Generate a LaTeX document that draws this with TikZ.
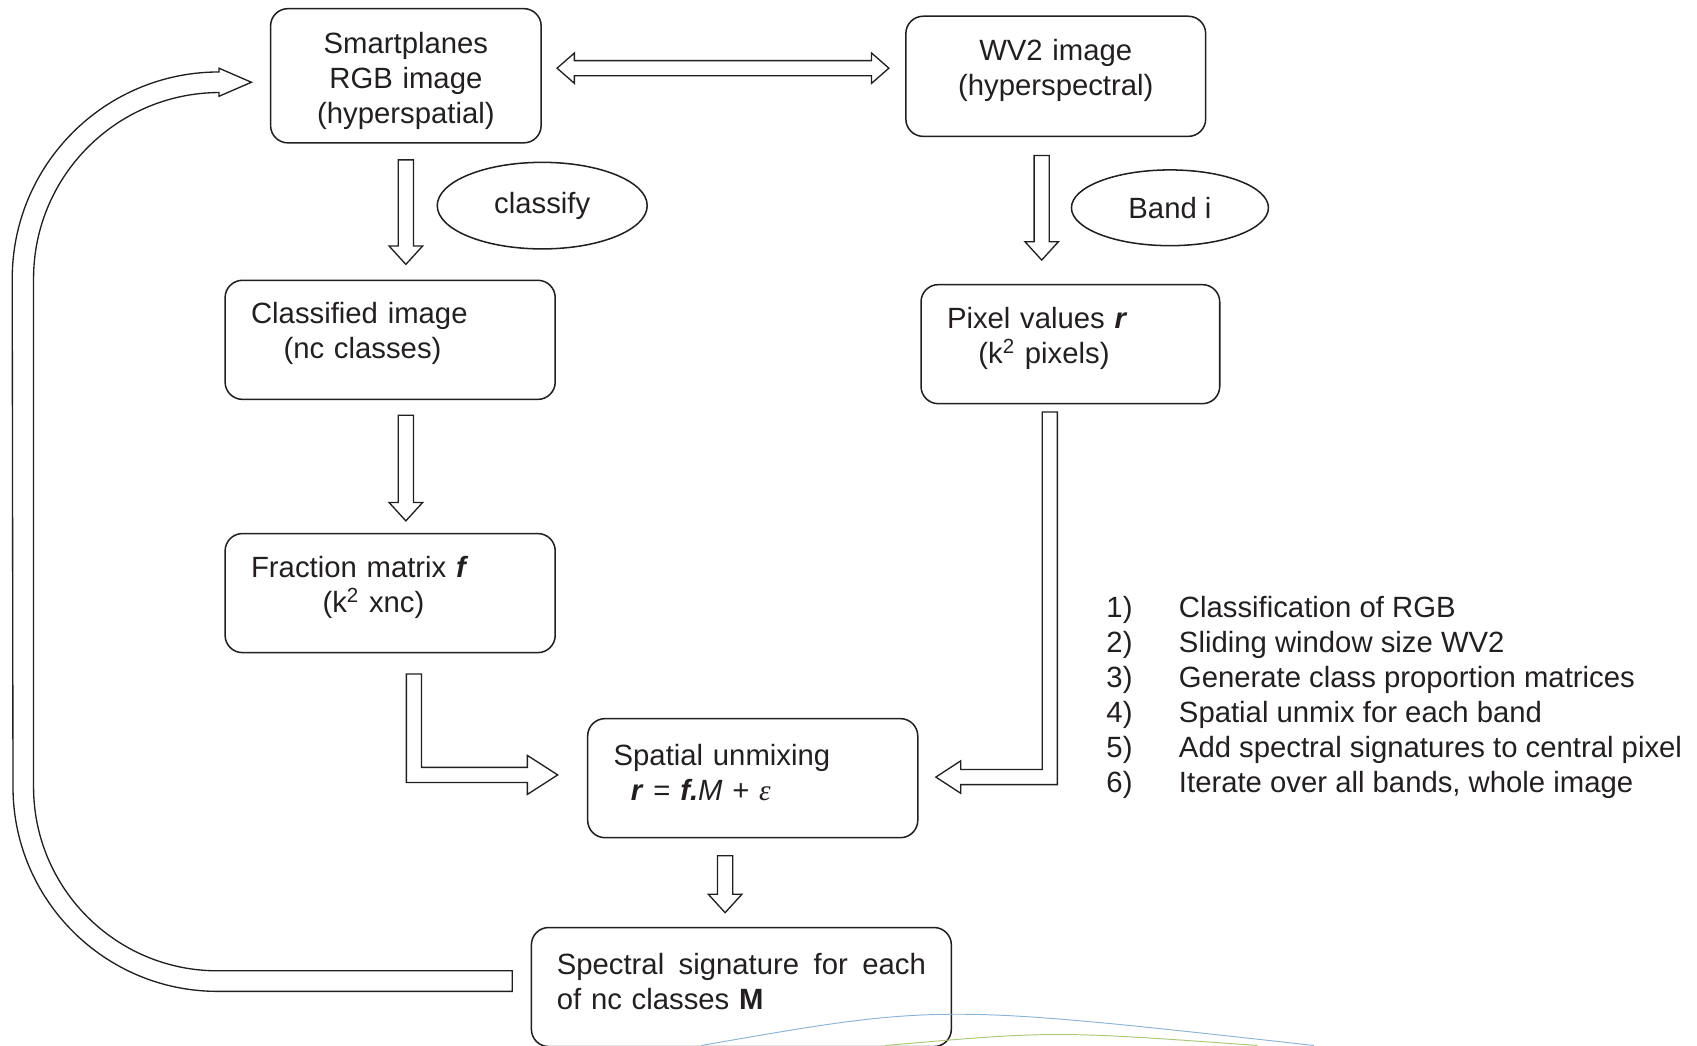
\documentclass[tikz,border=0pt]{standalone}
\usepackage{fontspec}
\setmainfont{Liberation Sans}
\newfontfamily\greekserif{Liberation Serif}
\usetikzlibrary{calc,shapes.geometric}
\definecolor{Ink}{RGB}{35,31,32}
\definecolor{ArcBlue}{RGB}{140,180,215}
\definecolor{ArcGreen}{RGB}{170,200,120}
\newcommand{\diafont}{\fontsize{15.4}{18.4}\selectfont}
\newcommand{\shafthw}{0.14}
\newcommand{\headhw}{0.31}
\newcommand{\headlen}{0.34}
% hollow block arrow pointing down: shaft top, tip
\newcommand{\fatdown}[2]{%
  \draw[fat] ($(#1)+(-\shafthw,0)$) -- ($(#2)+(-\shafthw,\headlen)$) -- ($(#2)+(-\headhw,\headlen)$)
    -- (#2) -- ($(#2)+(\headhw,\headlen)$) -- ($(#2)+(\shafthw,\headlen)$) -- ($(#1)+(\shafthw,0)$) -- cycle;}
\tikzset{
  box/.style={draw=Ink, line width=0.8pt, rounded corners=0.32cm, inner xsep=0.48cm, inner ysep=0pt,
    align=left, minimum height=2.2cm, text=Ink, font=\diafont},
  lift/.style={execute at end node={\par\vspace*{#1}}},
  lift/.default=2.2mm,
  tag/.style={draw=Ink, line width=0.8pt, ellipse, inner sep=0pt, text=Ink, font=\diafont},
  fat/.style={draw=Ink, line width=0.7pt},
}
\begin{document}
\begin{tikzpicture}
    \useasboundingbox (0,0) rectangle (31.36,-19.32);

    % Image boxes
    \node[box, lift=-2mm, text width=4.04cm, align=center, minimum height=2.48cm] (smart) at (7.50,-1.40) {Smartplanes\\RGB image\\(hyperspatial)};
    \node[box, lift, text width=4.58cm, align=center, minimum height=2.22cm] (wv2) at (19.51,-1.41) {WV2 image\\(hyperspectral)};

    % Steps
    \node[box, lift, text width=5.14cm] (clas) at (7.21,-6.28) {Classified image\\\hspace*{0.60cm}(nc classes)};
    \node[box, lift, text width=4.56cm] (pix) at (19.78,-6.36) {Pixel values \textbf{\textit{r}}\\\hspace*{0.58cm}(k\textsuperscript{2} pixels)};
    \node[box, lift, text width=5.14cm] (frac) at (7.21,-10.96) {Fraction matrix \textbf{\textit{f}}\\\hspace*{1.32cm}(k\textsuperscript{2} xnc)};
    \node[box, lift, text width=5.14cm] (spat) at (13.91,-14.38) {Spatial unmixing\\\hspace*{0.32cm}\textbf{\textit{r}} = \textbf{\textit{f.}}\textit{M} + {\greekserif\itshape ε}};
    \node[box, lift, text width=6.82cm, inner xsep=0.47cm] (spec) at (13.70,-18.24) {\hbox to 6.82cm{Spectral\hfill signature\hfill for\hfill each}\\of nc classes \textbf{M}};

    % Operations
    \node[tag, minimum width=3.88cm, minimum height=1.60cm] (classify) at (10.02,-3.80) {classify};
    \node[tag, minimum width=3.64cm, minimum height=1.40cm] (band) at (21.62,-3.84) {Band i};

    % Straight arrows
    \coordinate (d1s) at ($(smart.south)+(0,-0.30)$);
    \coordinate (d1t) at ($(d1s |- clas.north)+(0,0.28)$);
    \fatdown{d1s}{d1t}
    \coordinate (d2s) at ($(d1s |- clas.south)+(0,-0.28)$);
    \coordinate (d2t) at ($(d2s |- frac.north)+(0,0.22)$);
    \fatdown{d2s}{d2t}
    \coordinate (d3s) at ($(wv2.south)+(-0.26,-0.34)$);
    \coordinate (d3t) at ($(d3s |- pix.north)+(0,0.44)$);
    \fatdown{d3s}{d3t}
    \coordinate (d4s) at ($(spat.south)+(-0.51,-0.32)$);
    \coordinate (d4t) at ($(d4s |- spec.north)+(0,0.26)$);
    \fatdown{d4s}{d4t}

    % Double arrow between the two images
    \coordinate (dal) at ($(smart.east)+(0.28,0.14)$);
    \coordinate (dar) at ($(wv2.west |- dal)+(-0.30,0)$);
    \draw[fat] (dal) -- ($(dal)+(0.32,0.28)$) -- ($(dal)+(0.32,0.14)$) -- ($(dar)+(-0.32,0.14)$) -- ($(dar)+(-0.32,0.28)$)
        -- (dar) -- ($(dar)+(-0.32,-0.28)$) -- ($(dar)+(-0.32,-0.14)$) -- ($(dal)+(0.32,-0.14)$) -- ($(dal)+(0.32,-0.28)$) -- cycle;

    % Elbow arrows into the unmixing
    \coordinate (els) at ($(frac.south)+(0.44,-0.38)$);
    \coordinate (elt) at ($(spat.west)+(-0.54,0.06)$);
    \draw[fat] ($(els)+(-0.14,0)$) -- ($(els |- elt)+(-0.14,-0.14)$) -- ($(elt)+(-0.56,-0.14)$) -- ($(elt)+(-0.56,-0.36)$)
        -- (elt) -- ($(elt)+(-0.56,0.36)$) -- ($(elt)+(-0.56,0.14)$) -- ($(els |- elt)+(0.14,0.14)$) -- ($(els)+(0.14,0)$) -- cycle;
    \coordinate (ers) at ($(pix.south)+(-0.38,-0.14)$);
    \coordinate (ert) at ($(spat.east)+(0.32,0.02)$);
    \draw[fat] ($(ers)+(-0.14,0)$) -- ($(ers |- ert)+(-0.14,0.14)$) -- ($(ert)+(0.46,0.14)$) -- ($(ert)+(0.46,0.30)$)
        -- (ert) -- ($(ert)+(0.46,-0.30)$) -- ($(ert)+(0.46,-0.14)$) -- ($(ers |- ert)+(0.14,-0.14)$) -- ($(ers)+(0.14,0)$) -- cycle;

    % Feedback arrow back to the RGB image
    \coordinate (fbs) at ($(spec.west)+(-0.34,0.11)$);
    \coordinate (fbt) at ($(smart.west)+(-0.34,-0.12)$);
    \coordinate (fbx) at (0.43,0);
    \draw[fat] ($(fbs)+(0,0.19)$) -- ($(fbx |- fbs)+(3.59,0.19)$)
        arc[start angle=270, end angle=180, radius=3.4cm]
        -- ($(fbx |- fbt)+(0.19,-3.63)$)
        arc[start angle=180, end angle=90, radius=3.44cm]
        -- ($(fbt)+(-0.6,-0.19)$) -- ($(fbt)+(-0.6,-0.26)$) -- (fbt) -- ($(fbt)+(-0.6,0.26)$) -- ($(fbt)+(-0.6,0.19)$)
        arc[start angle=90, end angle=180, radius=3.82cm]
        -- ($(fbx |- fbs)+(-0.19,3.59)$)
        arc[start angle=180, end angle=270, radius=3.78cm]
        -- ($(fbs)+(0,-0.19)$) -- cycle;

    % Method steps
    \node[anchor=west, text=Ink, font=\diafont, inner sep=0pt] (steps) at (20.44,-12.89) {%
        \begin{tabular}{@{}p{1.34cm}@{}l@{}}
        1) & Classification of RGB\\
        2) & Sliding window size WV2\\
        3) & Generate class proportion matrices\\
        4) & Spatial unmix for each band\\
        5) & Add spectral signatures to central pixel\\
        6) & Iterate over all bands, whole image
        \end{tabular}};

    % Page decoration
    \draw[ArcBlue, line width=0.5pt] (12.96,-19.32) .. controls (17.37,-18.55) .. (24.28,-19.32);
    \draw[ArcGreen, line width=0.5pt] (16.36,-19.32) .. controls (19.48,-19.05) .. (23.24,-19.32);
\end{tikzpicture}
\end{document}
